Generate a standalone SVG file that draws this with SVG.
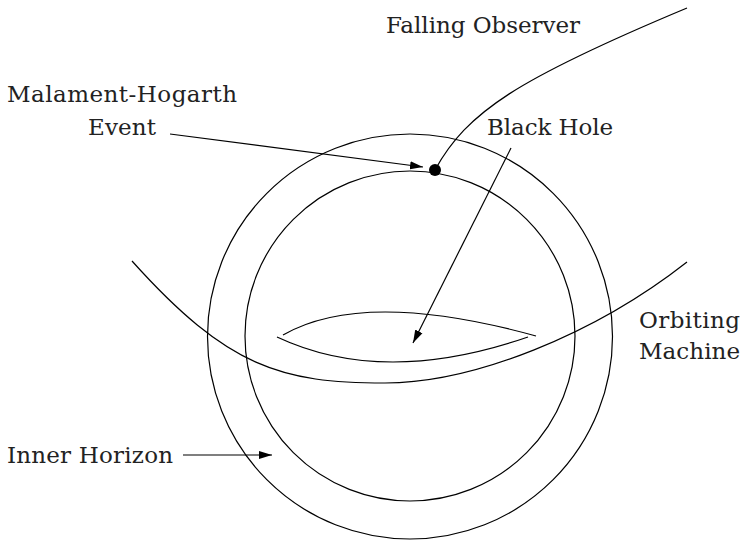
<svg xmlns="http://www.w3.org/2000/svg" width="741" height="540" viewBox="0 0 741 540">
<defs>
<style>
.ln{fill:none;stroke:#000;stroke-width:1.2}
.lbl{font-family:"DejaVu Serif","Liberation Serif",serif;font-size:23px;fill:#222}
</style>
<marker id="ah" markerUnits="userSpaceOnUse" markerWidth="14" markerHeight="10" viewBox="0 0 14 10" refX="13" refY="5" orient="auto">
<path d="M0,1 L13,5 L0,9 Z" fill="#000"/>
</marker>
</defs>
<rect width="741" height="540" fill="#fff"/>
<g id="outer-horizon"><circle class="ln" cx="410" cy="336.5" r="202.5"/></g>
<g id="inner-horizon-circle"><circle class="ln" cx="410" cy="336" r="165"/></g>
<g id="orbiting-machine-path"><path class="ln" d="M132,261 C228,368 282,383 385,383 C473,383 594,335 687,262"/></g>
<g id="singularity"><path class="ln" d="M283,335 Q364,288.5 536,336"/><path class="ln" d="M277,337 Q383.5,387 528,337"/></g>
<g id="falling-observer-path"><path class="ln" d="M435,170 C467,112 517,79 687,8"/></g>
<g id="mh-event"><circle cx="435" cy="170" r="6" fill="#000"/></g>
<g id="connectors">
<line class="ln" x1="170" y1="134" x2="423" y2="167" marker-end="url(#ah)"/>
<line class="ln" x1="511" y1="148" x2="413" y2="343" marker-end="url(#ah)"/>
<line class="ln" x1="183" y1="455" x2="272" y2="455" marker-end="url(#ah)"/>
</g>
<g id="labels">
<text class="lbl" x="386" y="33" textLength="194">Falling Observer</text>
<text class="lbl" x="7" y="102" textLength="230">Malament-Hogarth</text>
<text class="lbl" x="88" y="135" textLength="68">Event</text>
<text class="lbl" x="487" y="135" textLength="126">Black Hole</text>
<text class="lbl" x="639" y="328" textLength="101">Orbiting</text>
<text class="lbl" x="639" y="359" textLength="101">Machine</text>
<text class="lbl" x="7" y="463" textLength="166">Inner Horizon</text>
</g>
</svg>
